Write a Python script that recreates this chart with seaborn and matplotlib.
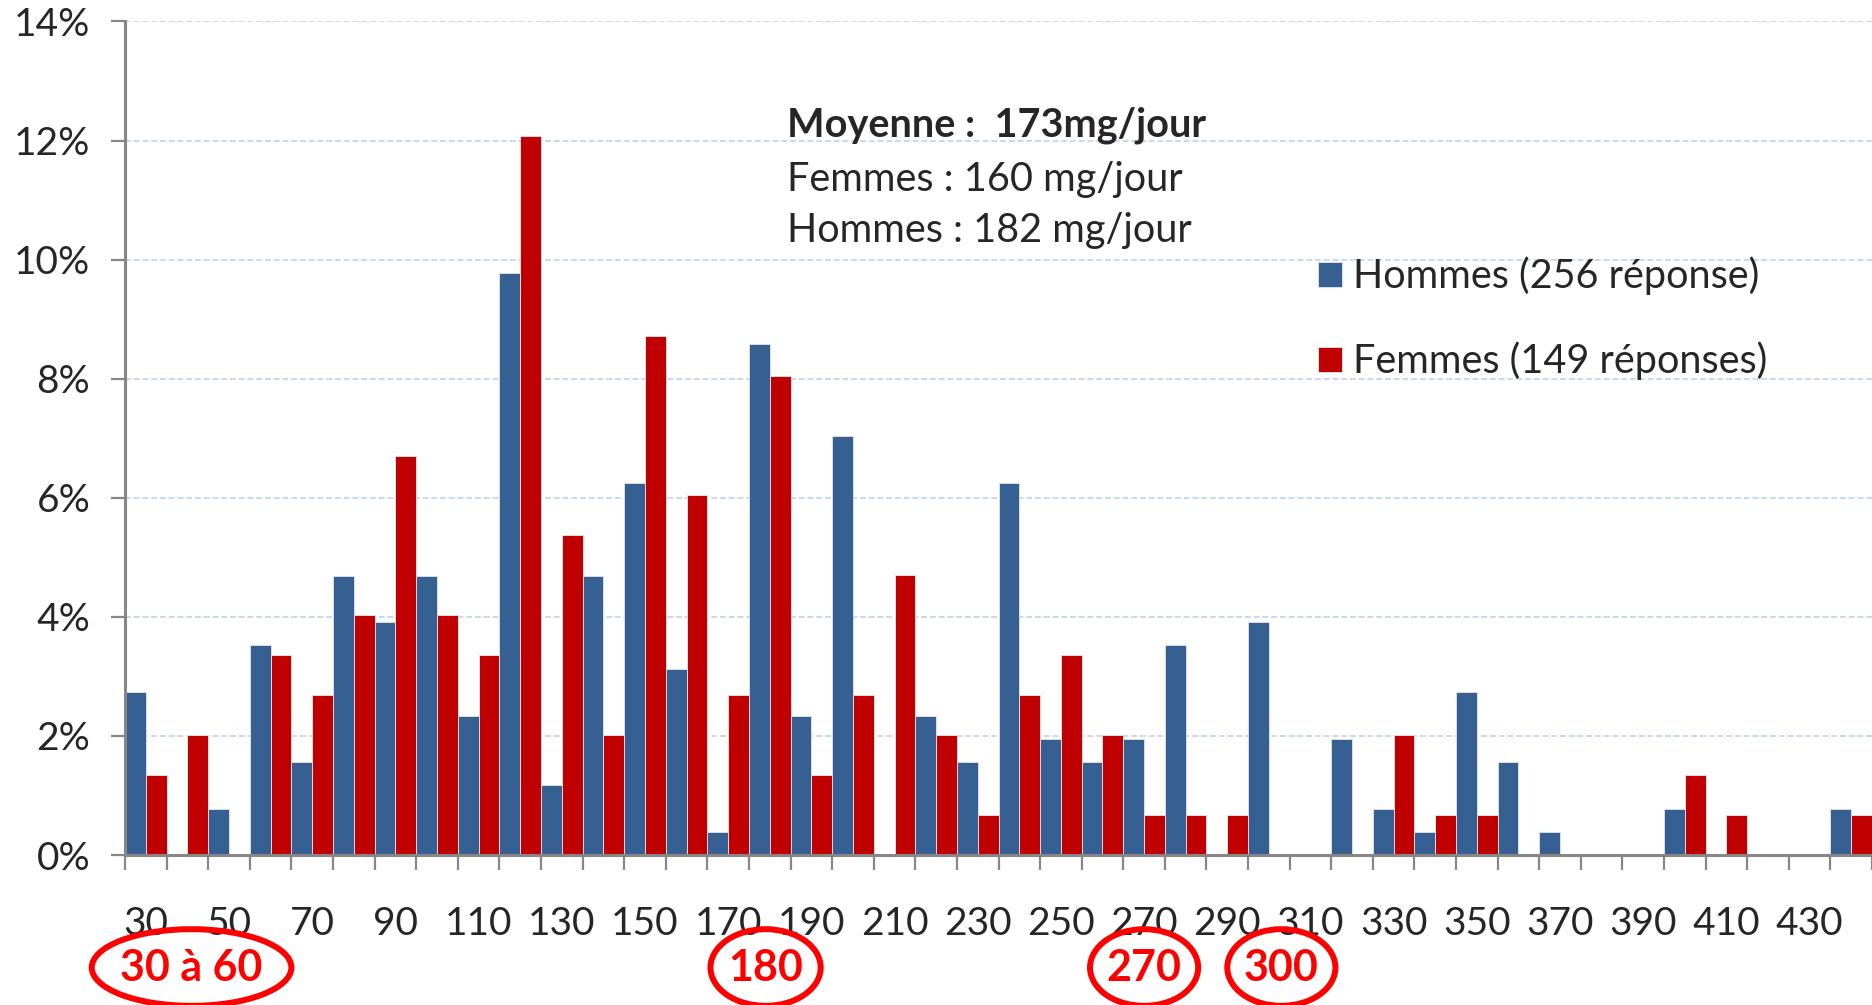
import matplotlib
matplotlib.use("Agg")
import matplotlib.pyplot as plt
import matplotlib.transforms as mtransforms
from matplotlib.patches import Ellipse
from matplotlib.ticker import FixedLocator, FuncFormatter
import seaborn as sns
import pandas as pd

# doses (mg/jour), one category every 10 mg
doses = [30, 40, 50, 60, 70, 80, 90, 100, 110, 120, 130, 140, 150, 160,
         170, 180, 190, 200, 210, 220, 230, 240, 250, 260, 270, 280, 290, 300,
         310, 320, 330, 340, 350, 360, 370, 380, 390, 400, 410, 420, 430, 440]

# share of answers (%)
hommes_pct = [2.73, 0, 0.78, 3.52, 1.56, 4.69, 3.91, 4.69, 2.34, 9.77, 1.17, 4.69, 6.25, 3.13,
              0.39, 8.59, 2.34, 7.03, 0, 2.34, 1.56, 6.25, 1.95, 1.56, 1.95, 3.52, 0, 3.91,
              0, 1.95, 0.78, 0.39, 2.73, 1.56, 0.39, 0, 0, 0.78, 0, 0, 0, 0.78]
femmes_pct = [1.34, 2.01, 0, 3.36, 2.68, 4.03, 6.71, 4.03, 3.36, 12.08, 5.37, 2.01, 8.72, 6.04,
              2.68, 8.05, 1.34, 2.68, 4.70, 2.01, 0.67, 2.68, 3.36, 2.01, 0.67, 0.67, 0.67, 0,
              0, 0, 2.01, 0.67, 0.67, 0, 0, 0, 0, 1.34, 0.67, 0, 0, 0.67]

label_h = "Hommes (256 réponse)"
label_f = "Femmes (149 réponses)"

notes = ["Moyenne :  173mg/jour", "Femmes : 160 mg/jour", "Hommes : 182 mg/jour"]

# circled values below the axis
highlight_text = ["30 à 60", "180", "270", "300"]
highlight_pos = [1.1, 14.9, 24, 27.3]
highlight_w = [4.8, 2.65, 2.6, 2.6]

BLUE = "#376092"
RED = "#C00000"
GREY = "#878787"

sns.set_style("white")
plt.rcParams["font.family"] = ["Lato", "DejaVu Sans"]

df = pd.DataFrame({
    "dose": [str(d) for d in doses] * 2,
    "pct": hommes_pct + femmes_pct,
    "sexe": [label_h] * len(doses) + [label_f] * len(doses),
})

fig = plt.figure(figsize=(18.72, 10.05), dpi=100)
ax = fig.add_axes([125 / 1872, 150 / 1005, 1747 / 1872, 833.5 / 1005])

sns.barplot(data=df, x="dose", y="pct", hue="sexe", hue_order=[label_h, label_f],
            order=[str(d) for d in doses], palette=[BLUE, RED], saturation=1,
            width=1.0, gap=0, errorbar=None, edgecolor="#d9dee6", linewidth=0.7,
            ax=ax, zorder=3)

ax.set_xlim(-0.5, len(doses) - 0.5)
ax.set_ylim(0, 14)
ax.set_xlabel("")
ax.set_ylabel("")

# y axis
ax.set_yticks(range(0, 15, 2))
ax.yaxis.set_major_formatter(FuncFormatter(lambda v, p: f"{int(v)}%"))
ax.tick_params(axis="y", direction="out", length=10, width=1.6, color=GREY,
               labelsize=28, pad=15, left=True)
for y in range(2, 15, 2):
    ax.axhline(y, color="#c9d8f0", lw=1.4, ls=(0, (3, 1.5)), zorder=1)

# x axis: labels on every other category, ticks on category borders
ax.set_xticks(range(0, len(doses), 2))
ax.set_xticklabels([str(d) for d in doses[::2]])
ax.xaxis.set_minor_locator(FixedLocator([i - 0.5 for i in range(len(doses) + 1)]))
ax.tick_params(axis="x", which="major", length=0, labelsize=28, pad=37)
ax.tick_params(axis="x", which="minor", direction="out", length=11, width=1.6,
               color=GREY, bottom=True)

for side in ["top", "right"]:
    ax.spines[side].set_visible(False)
for side in ["left", "bottom"]:
    ax.spines[side].set_color(GREY)
    ax.spines[side].set_linewidth(2.2)
    ax.spines[side].set_zorder(4)

# legend
handles, labels = ax.get_legend_handles_labels()
ax.legend(handles, labels, loc="upper left", bbox_to_anchor=(0.683, 0.718),
          frameon=False, fontsize=28.5, handlelength=0.6, handleheight=0.6,
          handletextpad=0.28, labelspacing=1.17, borderpad=0, borderaxespad=0)

# averages
ax.text(0.379, 0.876, notes[0], transform=ax.transAxes, fontsize=28.5,
        fontweight="bold", va="center", ha="left")
ax.text(0.379, 0.811, notes[1], transform=ax.transAxes, fontsize=28.5,
        va="center", ha="left")
ax.text(0.379, 0.749, notes[2], transform=ax.transAxes, fontsize=28.5,
        va="center", ha="left")

# circled values
trans = mtransforms.blended_transform_factory(ax.transData, ax.transAxes)
for txt, xpos, w in zip(highlight_text, highlight_pos, highlight_w):
    ax.add_patch(Ellipse((xpos, -0.135), w, 0.092, transform=trans, fill=False,
                         edgecolor="#ff0000", lw=4.3, clip_on=False, zorder=5))
    ax.text(xpos, -0.135, txt, transform=trans, color="#ff0000", fontsize=31,
            fontweight="bold", ha="center", va="center", clip_on=False)

fig.savefig("out.png", dpi=100)
